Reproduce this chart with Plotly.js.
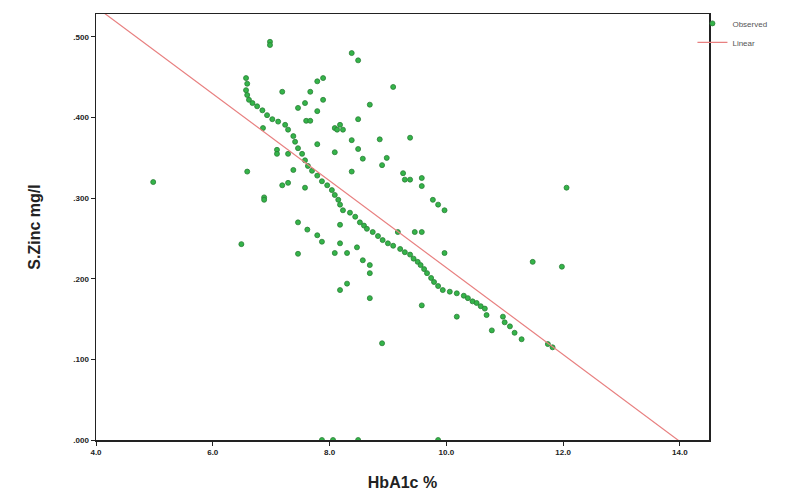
<!DOCTYPE html>
<html>
<head>
<meta charset="utf-8">
<script src="https://cdn.plot.ly/plotly-3.0.1.min.js"></script>
<style>html,body{margin:0;padding:0;background:#fff;}#chart{width:795px;height:497px;}</style>
</head>
<body>
<div id="chart"></div>
<script>
// Observed HbA1c (%) values
const hba1c = [
  6.57,6.59,6.57,6.59,6.62,6.68,6.76,6.85,6.93,7.02,7.12,7.24,7.29,7.38,7.41,7.46,7.53,7.58,7.63,7.70,
  7.79,7.87,7.96,8.04,8.09,8.15,8.18,8.23,8.35,8.44,8.52,8.59,8.64,8.74,8.83,8.91,9.00,9.09,9.21,9.29,
  9.38,9.44,9.51,9.56,9.62,9.67,9.74,9.79,9.86,9.94,10.06,10.18,10.30,10.37,10.45,10.52,10.59,10.66,10.69,10.97,
  11.00,11.09,11.17,11.29,11.74,11.82,
  4.98,6.49,6.59,6.88,6.88,6.98,6.98,7.19,6.86,7.10,7.10,7.29,7.19,7.29,7.38,7.46,7.46,7.58,7.46,7.67,
  7.79,7.89,7.89,7.79,7.60,7.67,8.38,8.49,9.09,8.69,8.49,8.09,8.18,8.23,8.13,8.38,8.86,9.38,7.79,8.09,
  8.49,8.57,8.98,8.90,8.38,7.58,9.26,9.29,9.38,9.58,9.58,9.77,9.86,9.97,7.62,7.79,7.87,8.18,8.18,8.47,
  8.30,8.09,8.57,8.69,8.69,9.17,9.46,9.58,9.97,8.30,8.18,8.69,8.90,9.58,10.18,10.78,11.48,11.98,12.06,
  7.87,8.06,8.49,9.86
];
// Observed S.Zinc (mg/l) values
const zinc = [
  0.449,0.442,0.434,0.428,0.422,0.418,0.414,0.409,0.403,0.398,0.395,0.391,0.385,0.377,0.370,0.362,0.355,0.347,0.340,0.334,
  0.328,0.321,0.316,0.310,0.304,0.298,0.292,0.285,0.282,0.277,0.270,0.266,0.262,0.258,0.253,0.248,0.244,0.241,0.237,0.233,
  0.230,0.225,0.221,0.217,0.212,0.207,0.201,0.196,0.191,0.186,0.184,0.182,0.179,0.176,0.172,0.170,0.166,0.163,0.155,0.153,
  0.146,0.141,0.133,0.125,0.119,0.115,
  0.320,0.243,0.333,0.301,0.298,0.494,0.490,0.432,0.387,0.360,0.355,0.355,0.316,0.319,0.335,0.270,0.231,0.418,0.412,0.432,
  0.445,0.449,0.422,0.408,0.396,0.396,0.480,0.471,0.438,0.416,0.398,0.387,0.391,0.385,0.385,0.372,0.373,0.375,0.367,0.357,
  0.361,0.349,0.350,0.341,0.333,0.313,0.331,0.323,0.323,0.325,0.315,0.298,0.292,0.285,0.261,0.254,0.246,0.267,0.244,0.239,
  0.232,0.232,0.223,0.217,0.207,0.258,0.258,0.258,0.232,0.194,0.186,0.176,0.120,0.167,0.153,0.136,0.221,0.215,0.313,
  0,0,0,0
];
// Linear fit coefficients
const fitIntercept = 0.7528;
const fitSlope = -0.0539;
const fitX = [4.0, 14.5];
const fitY = fitX.map(x => fitIntercept + fitSlope * x);

const xTickVals = [4, 6, 8, 10, 12, 14];
const xTickText = ["4.0", "6.0", "8.0", "10.0", "12.0", "14.0"];
const yTickVals = [0, 0.1, 0.2, 0.3, 0.4, 0.5];
const yTickText = [".000", ".100", ".200", ".300", ".400", ".500"];

const traces = [
  {
    x: hba1c, y: zinc, type: 'scatter', mode: 'markers', name: 'Observed',
    marker: {color: '#34b449', size: 5, line: {color: '#2a7d36', width: 0.8}}
  },
  {
    x: fitX, y: fitY, type: 'scatter', mode: 'lines', name: 'Linear',
    line: {color: '#e88080', width: 1.2}
  }
];

const layout = {
  width: 795, height: 497,
  margin: {l: 96, r: 86, t: 14, b: 57, autoexpand: false},
  paper_bgcolor: '#fff', plot_bgcolor: '#fff',
  font: {family: 'Liberation Sans, Arial, sans-serif', color: '#000'},
  showlegend: true,
  legend: {
    x: 0.973, xanchor: 'left', y: 1.012, yanchor: 'top',
    font: {size: 8, color: '#555'}, bgcolor: 'rgba(0,0,0,0)',
    itemwidth: 30, tracegroupgap: 0
  },
  xaxis: {
    range: [4, 14.5], showgrid: false, zeroline: false,
    showline: true, linecolor: '#222', linewidth: 1.5, mirror: true,
    ticks: 'outside', ticklen: 4, tickcolor: '#222', tickwidth: 1,
    tickvals: xTickVals, ticktext: xTickText,
    tickfont: {size: 8, weight: 'bold', color: '#222'},
    title: {text: 'HbA1c %', font: {size: 16, weight: 'bold', color: '#222'}, standoff: 20}
  },
  yaxis: {
    range: [0, 0.5285], showgrid: false, zeroline: false,
    showline: true, linecolor: '#222', linewidth: 1.5, mirror: true,
    ticks: 'outside', ticklen: 4, tickcolor: '#222', tickwidth: 1,
    tickvals: yTickVals, ticktext: yTickText,
    tickfont: {size: 8, weight: 'bold', color: '#222'},
    title: {text: 'S.Zinc mg/l', font: {size: 16, weight: 'bold', color: '#222'}, standoff: 28}
  }
};

Plotly.newPlot('chart', traces, layout, {displayModeBar: false, staticPlot: true});
</script>
</body>
</html>
